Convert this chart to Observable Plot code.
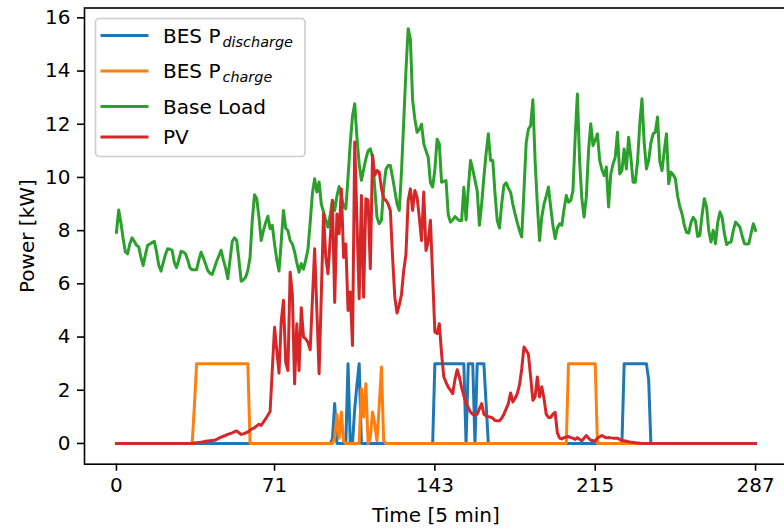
<!DOCTYPE html>
<html><head><meta charset="utf-8">
<script src="https://cdn.jsdelivr.net/npm/d3@7"></script>
<script src="https://cdn.jsdelivr.net/npm/@observablehq/plot@0.6"></script>
<style>body{margin:0;background:#fff}</style>
</head><body><div id="chart"></div>
<script>
const xTicks = [0, 71, 143, 215, 287];
const yTicks = [0, 2, 4, 6, 8, 10, 12, 14, 16];

const discharge = [
0,0,0,0,0,0,0,0,0,0,0,0,0,0,0,0,
0,0,0,0,0,0,0,0,0,0,0,0,0,0,0,0,
0,0,0,0,0,0,0,0,0,0,0,0,0,0,0,0,
0,0,0,0,0,0,0,0,0,0,0,0,0,0,0,0,
0,0,0,0,0,0,0,0,0,0,0,0,0,0,0,0,
0,0,0,0,0,0,0,0,0,0,0,0,0,0,0,0,
0,0.17,1.5,0,0,0,0,0,3,0,0,1.3,2.2,3,0,0,
0,0,0,0,0,0,0,0,0,0,0,0,0,0,0,0,
0,0,0,0,0,0,0,0,0,0,0,0,0,0,0,3,
3,3,3,3,3,3,3,3,3,3,3,3,3,0,3,3,
3,0,3,3,3,3,1.5,0,0,0,0,0,0,0,0,0,
0,0,0,0,0,0,0,0,0,0,0,0,0,0,0,0,
0,0,0,0,0,0,0,0,0,0,0,0,0,0,0,0,
0,0,0,0,0,0,0,0,0,0,0,0,0,0,0,0,
0,0,0,0,3,3,3,3,3,3,3,3,3,3,3,2.4,
0,0,0,0,0,0,0,0,0,0,0,0,0,0,0,0,
0,0,0,0,0,0,0,0,0,0,0,0,0,0,0,0,
0,0,0,0,0,0,0,0,0,0,0,0,0,0,0,0
];

const charge = [
0,0,0,0,0,0,0,0,0,0,0,0,0,0,0,0,
0,0,0,0,0,0,0,0,0,0,0,0,0,0,0,0,
0,0,0,1.4,3,3,3,3,3,3,3,3,3,3,3,3,
3,3,3,3,3,3,3,3,3,3,3,3,0,0,0,0,
0,0,0,0,0,0,0,0,0,0,0,0,0,0,0,0,
0,0,0,0,0,0,0,0,0,0,0,0,0,0,0,0,
0,0,0.2,1.1,0.2,1.18,0.1,0,0,0,0,0,0,0,2.06,0.99,
2.24,0,0.2,1.18,0.74,0.1,1.4,2.87,0.1,0,0,0,0,0,0,0,
0,0,0,0,0,0,0,0,0,0,0,0,0,0,0,0,
0,0,0,0,0,0,0,0,0,0,0,0,0,0,0,0,
0,0,0,0,0,0,0,0,0,0,0,0,0,0,0,0,
0,0,0,0,0,0,0,0,0,0,0,0,0,0,0,0,
0,0,0,0,0,0,0,0,0,0,0,3,3,3,3,3,
3,3,3,3,3,3,3,3,0,0,0,0,0,0,0,0,
0,0,0,0,0,0,0,0,0,0,0,0,0,0,0,0,
0,0,0,0,0,0,0,0,0,0,0,0,0,0,0,0,
0,0,0,0,0,0,0,0,0,0,0,0,0,0,0,0,
0,0,0,0,0,0,0,0,0,0,0,0,0,0,0,0
];

const baseLoad = [
7.94,8.78,8.3,7.7,7.2,7.13,7.5,7.73,7.6,7.45,7.39,7.0,
6.69,7.1,7.45,7.5,7.55,7.6,7.2,6.7,6.48,6.8,7.1,7.32,
7.3,7.26,6.8,6.61,6.9,7.22,7.2,7.13,6.9,6.6,6.53,6.53,
6.53,6.9,7.19,6.98,6.75,6.5,6.4,6.35,6.6,6.85,7.05,7.26,
6.9,6.6,6.19,6.9,7.6,7.73,7.63,6.9,6.1,6.15,6.25,6.5,
7.0,8.4,9.35,9.2,8.5,7.63,8.0,8.3,8.54,8.07,8.2,7.5,
6.9,6.48,7.6,8.76,8.1,8.0,7.63,7.5,7.2,6.8,6.44,6.76,
6.55,6.9,7.3,8.3,9.4,9.95,9.45,9.83,9.0,8.7,8.4,8.13,
8.6,9.14,8.76,9.3,9.66,9.3,8.9,8.82,10.0,11.3,12.3,12.77,
11.5,10.5,9.89,10.3,10.7,11.0,11.08,10.76,9.6,8.5,8.26,8.39,
9.6,10.3,10.45,10.45,10.0,9.51,9.0,8.76,10.2,12.1,14.0,15.59,
15.2,12.9,12.2,11.7,11.8,12.0,11.27,11.0,10.76,9.8,9.64,10.3,
11.44,11.25,9.82,9.85,9.88,8.6,8.32,8.4,8.53,8.45,8.38,8.38,
9.63,8.4,9.6,10.64,10.3,9.9,9.5,8.2,9.0,10.0,10.9,11.64,
10.64,10.64,9.4,8.38,8.1,9.0,9.7,9.8,9.6,9.44,9.0,8.63,
8.3,8.0,7.76,9.5,11.3,11.82,11.95,12.92,10.64,9.0,7.63,8.5,
9.0,9.3,9.64,8.89,8.2,7.7,8.1,8.26,8.2,8.8,9.32,9.07,
9.13,9.5,11.5,13.14,10.6,9.2,8.51,9.26,11.0,12.02,11.2,11.4,
11.64,10.64,10.3,10.07,10.39,8.89,10.13,10.5,10.76,11.7,10.13,10.26,
11.07,10.32,11.51,10.76,9.82,9.82,10.6,12.0,12.96,11.3,10.32,10.64,
11.3,11.64,11.7,12.27,10.6,10.26,11.0,11.64,9.76,10.2,10.1,9.95,
9.3,8.9,8.63,8.2,7.94,7.91,8.3,8.5,8.38,7.78,7.82,8.6,
9.2,8.9,8.0,7.57,8.01,7.51,8.3,8.7,8.5,7.9,7.48,7.55,
7.57,8.0,8.32,8.23,8.13,7.8,7.51,7.5,7.51,7.9,8.26,8.01
];

const pv = [
0,0,0,0,0,0,0,0,0,0,0,0,
0,0,0,0,0,0,0,0,0,0,0,0,
0,0,0,0,0,0,0,0,0,0,0.01,0.02,
0.03,0.04,0.05,0.06,0.08,0.09,0.1,0.11,0.12,0.15,0.2,0.24,
0.27,0.3,0.34,0.37,0.4,0.44,0.47,0.4,0.34,0.36,0.4,0.43,
0.5,0.55,0.59,0.66,0.72,0.68,0.8,0.93,1.06,1.2,2.8,4.37,
3.5,2.64,4.6,5.38,3.06,2.74,6.44,5.6,2.24,4.5,2.74,5.1,
4.0,3.93,3.8,3.52,5.4,7.32,5.0,2.62,5.6,8.63,7.0,6.38,
7.7,9.13,5.3,8.63,7.88,9.57,6.99,7.5,5.0,5.69,3.68,11.33,
8.38,5.44,9.32,5.5,9.2,9.14,6.57,10.83,10.08,10.26,10.2,9.6,
9.2,9.14,9.0,8.76,7.0,5.5,4.9,5.2,5.6,6.5,7.1,9.13,
9.57,8.76,9.51,9.26,8.5,7.63,9.45,7.25,7.6,8.39,6.25,4.19,
4.13,4.5,3.38,2.5,2.3,2.12,2.0,1.87,2.4,2.77,2.5,2.1,
1.8,1.5,1.35,1.18,1.1,1.05,1.1,1.3,1.5,1.1,1.04,1.0,
0.99,0.95,0.86,0.85,0.85,0.95,1.1,1.3,1.5,1.9,1.56,1.7,
1.87,2.2,2.8,3.63,3.5,3.35,2.5,1.62,1.75,2.5,1.75,2.13,
1.69,1.1,0.98,0.98,1.1,1.17,0.4,0.2,0.17,0.22,0.24,0.26,
0.22,0.2,0.15,0.22,0.15,0.1,0.2,0.3,0.2,0.12,0.1,0.1,
0.2,0.25,0.3,0.25,0.21,0.22,0.21,0.2,0.2,0.2,0.15,0.11,
0.1,0.08,0.06,0.05,0.04,0.03,0.02,0.01,0,0,0,0,
0,0,0,0,0,0,0,0,0,0,0,0,
0,0,0,0,0,0,0,0,0,0,0,0,
0,0,0,0,0,0,0,0,0,0,0,0,
0,0,0,0,0,0,0,0,0,0,0,0
];

const legendMain = ["BES P", "BES P", "Base Load", "PV"];
const legendSub = ["discharge", "charge", "", ""];
const colors = ["#1f77b4", "#ff7f0e", "#2ca02c", "#d62728"];
const seriesValues = [discharge, charge, baseLoad, pv];
const xLabel = "Time [5 min]";
const yLabel = "Power [kW]";

const rows = seriesValues.flatMap((vals, k) => vals.map((v, i) => ({t: i, v, k})));
const font = "DejaVu Sans";

const chart = Plot.plot({
  width: 784, height: 532,
  marginLeft: 84, marginRight: -3, marginTop: 7.5, marginBottom: 68.3,
  style: {fontFamily: font, fontSize: "20px", color: "#000", background: "#fff", overflow: "hidden"},
  x: {domain: [-14.35, 301.35]},
  y: {domain: [-0.78, 16.37]},
  marks: [
    Plot.axisX({ticks: xTicks, tickSize: 7, tickPadding: 7, label: null, tickFormat: d => String(d), strokeWidth: 1.6, fontSize: 20}),
    Plot.axisY({ticks: yTicks, tickSize: 7, tickPadding: 7, label: null, tickFormat: d => String(d), strokeWidth: 1.6, fontSize: 20}),
    ...seriesValues.map((vals, k) => Plot.line(rows.filter(r => r.k === k), {
      x: "t", y: "v", stroke: colors[k], strokeWidth: 3, strokeLinejoin: "round", strokeLinecap: "square"
    })),
    Plot.frame({stroke: "#000", strokeWidth: 1.6}),
    Plot.text([xLabel], {text: d => d, frameAnchor: "bottom", dy: 51, lineAnchor: "middle", textAnchor: "middle", fontSize: 20, fill: "#000"}),
    Plot.text([yLabel], {text: d => d, frameAnchor: "left", dx: -57, rotate: -90, lineAnchor: "middle", textAnchor: "middle", fontSize: 20, fill: "#000"})
  ]
});
document.getElementById("chart").appendChild(chart);

// legend inside the axes (upper left)
const svg = d3.select(chart);
const lg = svg.append("g").attr("font-family", font).attr("text-anchor", "start");
lg.append("rect")
  .attr("x", 95.5).attr("y", 18.5).attr("width", 209.5).attr("height", 138)
  .attr("rx", 4).attr("fill", "rgba(255,255,255,0.8)").attr("stroke", "#cccccc").attr("stroke-width", 1.6);
const rowY = [35.6, 71, 106.6, 137];
legendMain.forEach((m, i) => {
  lg.append("line").attr("x1", 102).attr("x2", 147).attr("y1", rowY[i]).attr("y2", rowY[i])
    .attr("stroke", colors[i]).attr("stroke-width", 3).attr("stroke-linecap", "square");
  const tx = lg.append("text").attr("x", 163).attr("y", rowY[i] + 7.4)
    .attr("font-size", 20).attr("fill", "#000").attr("text-anchor", "start");
  tx.append("tspan").text(m);
  if (legendSub[i]) {
    tx.append("tspan").attr("dx", 2).attr("dy", 4).attr("font-size", 14.4).attr("font-style", "italic").text(legendSub[i]);
  }
});
</script>
</body></html>
